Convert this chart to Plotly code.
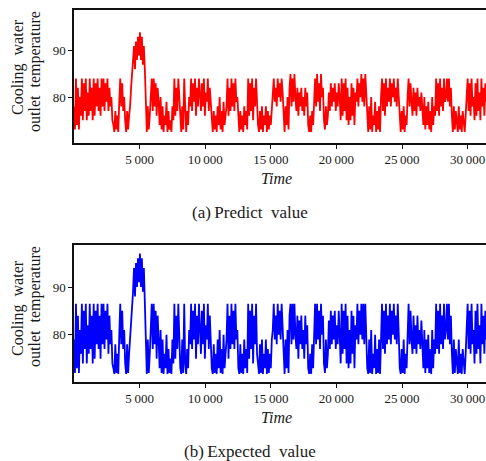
import plotly.graph_objects as go

# ---- data ----
time_step = 75
predict_value = [
    78, 73, 84, 74, 82, 73, 80, 76, 84, 75, 83, 77, 84, 75, 81, 76, 84, 77, 82, 75,
    84, 76, 83, 78, 84, 77, 82, 76, 84, 78, 84, 77, 83, 79, 84, 77, 82, 78, 80, 75,
    74, 72.5, 77, 73, 76, 72.5, 79, 84, 78, 83, 77, 80, 75, 72.5, 77, 73, 76, 78, 82, 85,
    87, 91, 86, 92, 88, 93, 89, 94, 88, 93, 87, 91, 86, 80, 72.5, 78, 73, 76, 82, 84,
    77, 84, 78, 83, 76, 82, 79, 74, 80, 73, 78, 72.5, 76, 74, 79, 72.5, 77, 73, 75, 72.5,
    78, 75, 84, 76, 82, 77, 84, 79, 74, 72.5, 78, 73, 84, 75, 72.5, 77, 74, 80, 78, 84,
    77, 83, 79, 84, 76, 82, 78, 84, 80, 77, 83, 78, 84, 76, 81, 79, 84, 77, 82, 78,
    74, 72.5, 77, 73, 76, 72.5, 78, 74, 80, 73, 77, 72.5, 79, 74, 76, 78, 84, 76, 82, 77,
    84, 78, 83, 77, 84, 79, 80, 74, 72.5, 77, 73, 76, 72.5, 78, 74, 77, 73, 84, 76, 83,
    77, 84, 75, 82, 78, 84, 76, 74, 72.5, 77, 73, 78, 72.5, 76, 74, 78, 72.5, 77, 73, 76,
    74, 78, 80, 84, 79, 82, 78, 84, 80, 83, 79, 84, 81, 76, 72.5, 78, 74, 80, 73, 82,
    85, 78, 84, 79, 85, 80, 77, 82, 76, 81, 78, 82, 77, 80, 76, 82, 78, 81, 74, 72.5,
    76, 72.5, 77, 74, 80, 84, 78, 85, 79, 83, 77, 85, 80, 82, 75, 73, 78, 74, 76, 81,
    77, 83, 78, 82, 79, 83, 77, 81, 78, 83, 80, 75, 84, 76, 83, 77, 84, 75, 82, 74,
    80, 75, 83, 76, 82, 74, 81, 79, 84, 78, 83, 80, 85, 79, 84, 78, 85, 80, 74, 72.5,
    78, 73, 80, 72.5, 76, 74, 79, 72.5, 77, 73, 78, 72.5, 80, 84, 77, 83, 76, 84, 78, 82,
    79, 84, 78, 83, 80, 84, 79, 82, 78, 84, 80, 74, 72.5, 77, 73, 78, 72.5, 76, 74, 80,
    84, 78, 83, 79, 76, 82, 77, 81, 76, 82, 78, 80, 77, 81, 76, 74, 80, 73, 78, 74,
    79, 73, 77, 72.5, 80, 74, 78, 76, 84, 77, 83, 76, 84, 78, 82, 77, 84, 79, 80, 84,
    79, 84, 78, 82, 76, 72.5, 78, 73, 77, 74, 72.5, 78, 73, 76, 72.5, 77, 74, 72.5, 76, 82,
    84, 77, 83, 76, 84, 78, 80, 75, 83, 76, 84, 77, 81, 75, 84, 78, 82, 76, 83, 79,
]
expected_value = [
    79, 72, 86.5, 73, 84, 72, 81, 76, 86.5, 74, 85, 77, 86.5, 74, 82, 76, 86.5, 77, 84, 74,
    86.5, 75, 85, 78, 86.5, 77, 84, 75, 86.5, 78, 86.5, 77, 85, 79, 86.5, 76, 84, 78, 81, 74,
    73, 71.8, 78, 72, 76, 71.8, 80, 86.5, 78, 85, 77, 81, 74, 71.8, 78, 72, 76, 79, 84, 87,
    89, 94, 88, 95, 90, 96, 91, 97, 90, 96, 89, 94, 88, 81, 71.8, 79, 72, 76, 84, 86.5,
    77, 86.5, 78, 85, 75, 84, 79, 73, 81, 72, 79, 71.8, 76, 73, 80, 71.8, 77, 72, 75, 71.8,
    79, 74, 86.5, 75, 84, 77, 86.5, 79, 73, 71.8, 79, 72, 86.5, 74, 71.8, 77, 73, 81, 78, 86.5,
    77, 85, 79, 86.5, 75, 84, 78, 86.5, 80, 76, 85, 78, 86.5, 75, 82, 79, 86.5, 77, 84, 78,
    73, 71.8, 78, 72, 76, 71.8, 79, 73, 81, 72, 77, 71.8, 80, 73, 76, 79, 86.5, 75, 84, 77,
    86.5, 78, 85, 77, 86.5, 79, 81, 73, 71.8, 78, 72, 76, 71.8, 79, 73, 77, 72, 86.5, 75, 85,
    77, 86.5, 74, 84, 78, 86.5, 76, 73, 71.8, 78, 72, 79, 71.8, 76, 73, 79, 71.8, 77, 72, 76,
    73, 79, 81, 86.5, 79, 84, 78, 86.5, 80, 85, 79, 86.5, 82, 76, 71.8, 79, 73, 81, 72, 84,
    86.5, 78, 86.5, 79, 86.5, 80, 77, 84, 75, 83, 78, 84, 77, 81, 75, 84, 78, 82, 73, 71.8,
    76, 71.8, 78, 73, 81, 86.5, 78, 86.5, 79, 85, 77, 86.5, 80, 84, 74, 72, 79, 73, 76, 83,
    77, 85, 78, 84, 79, 85, 77, 82, 78, 85, 80, 74, 86.5, 76, 85, 77, 86.5, 74, 84, 73,
    81, 74, 85, 76, 84, 73, 82, 79, 86.5, 78, 85, 80, 86.5, 79, 86.5, 78, 86.5, 80, 73, 71.8,
    79, 72, 81, 71.8, 76, 73, 80, 71.8, 77, 72, 79, 71.8, 81, 86.5, 77, 85, 76, 86.5, 78, 84,
    79, 86.5, 78, 85, 80, 86.5, 79, 84, 78, 86.5, 80, 73, 71.8, 77, 72, 79, 71.8, 76, 73, 81,
    86.5, 78, 85, 79, 76, 84, 77, 82, 76, 84, 78, 81, 77, 83, 76, 73, 81, 72, 79, 73,
    80, 72, 77, 71.8, 81, 73, 79, 76, 86.5, 77, 85, 76, 86.5, 78, 84, 77, 86.5, 79, 81, 86.5,
    79, 86.5, 78, 84, 76, 71.8, 79, 72, 77, 73, 71.8, 79, 72, 76, 71.8, 77, 73, 71.8, 76, 84,
    86.5, 77, 85, 76, 86.5, 78, 81, 74, 85, 76, 86.5, 77, 82, 74, 86.5, 78, 84, 76, 85, 79,
]
time = [i * time_step for i in range(len(predict_value))]

x_tickvals = [5000, 10000, 15000, 20000, 25000, 30000]
x_ticktext = ["5\u2009000", "10\u2009000", "15\u2009000", "20\u2009000", "25\u2009000", "30\u2009000"]
y_tickvals = [80, 90]
y_ticktext = ["80", "90"]
captions = ["(a)\u2009Predict\u00a0\u00a0value", "(b)\u2009Expected\u00a0\u00a0value"]
y_title_lines = ["Cooling\u00a0\u00a0water", "outlet\u00a0\u00a0temperature"]
x_title = "Time"

W, H = 486, 461
SERIF = "Liberation Serif, DejaVu Serif, serif"
TXT = "#1a1a1a"

fig = go.Figure()
fig.add_trace(go.Scatter(x=time, y=predict_value, mode="lines",
                         line=dict(color="#ff0000", width=1.8),
                         xaxis="x", yaxis="y", showlegend=False))
fig.add_trace(go.Scatter(x=time, y=expected_value, mode="lines",
                         line=dict(color="#0000ff", width=1.8),
                         xaxis="x2", yaxis="y2", showlegend=False))

def px_x(p):
    return p / W

def px_y(p):
    return 1 - p / H

common_x = dict(range=[0, 31400], tickvals=x_tickvals, ticktext=x_ticktext,
                showline=True, linecolor="#111111", linewidth=1.5, mirror=True,
                ticks="outside", ticklen=4, tickcolor="#111111",
                showgrid=False, zeroline=False,
                tickfont=dict(family=SERIF, size=13, color=TXT))
common_y = dict(range=[70.1, 98.8], tickvals=y_tickvals, ticktext=y_ticktext,
                showline=True, linecolor="#111111", linewidth=1.5, mirror=False,
                ticks="outside", ticklen=4, tickcolor="#111111",
                showgrid=False, zeroline=False,
                tickfont=dict(family=SERIF, size=13, color=TXT))

plots = [(10, 143), (245, 382)]
fig.update_layout(
    width=W, height=H,
    margin=dict(l=0, r=0, t=0, b=0),
    paper_bgcolor="white", plot_bgcolor="white",
    xaxis=dict(domain=[px_x(74), 1], anchor="y", **common_x),
    yaxis=dict(domain=[px_y(plots[0][1]), px_y(plots[0][0])], anchor="x", **common_y),
    xaxis2=dict(domain=[px_x(74), 1], anchor="y2", **common_x),
    yaxis2=dict(domain=[px_y(plots[1][1]), px_y(plots[1][0])], anchor="x2", **common_y),
)

ann = []
for k, (top, bot) in enumerate(plots):
    ann.append(dict(x=px_x(18), y=px_y(top + 57 if k == 0 else top + 63), xref="paper", yref="paper",
                    text=y_title_lines[0], textangle=-90, showarrow=False,
                    font=dict(family=SERIF, size=16, color=TXT),
                    xanchor="center", yanchor="middle"))
    ann.append(dict(x=px_x(35), y=px_y(top + 62), xref="paper", yref="paper",
                    text=y_title_lines[1], textangle=-90, showarrow=False,
                    font=dict(family=SERIF, size=16, color=TXT),
                    xanchor="center", yanchor="middle"))
    ann.append(dict(x=px_x(276), y=px_y(bot + 35), xref="paper", yref="paper",
                    text="<i>" + x_title + "</i>", showarrow=False,
                    font=dict(family=SERIF, size=16, color=TXT),
                    xanchor="center", yanchor="middle"))
    ann.append(dict(x=px_x(250), y=px_y(bot + 69), xref="paper", yref="paper",
                    text=captions[k], showarrow=False,
                    font=dict(family=SERIF, size=17, color=TXT),
                    xanchor="center", yanchor="middle"))
fig.update_layout(annotations=ann)

fig.write_html("out.html", config={"displayModeBar": False},
               post_script="document.body.style.margin='0px';document.body.style.overflow='hidden';")
